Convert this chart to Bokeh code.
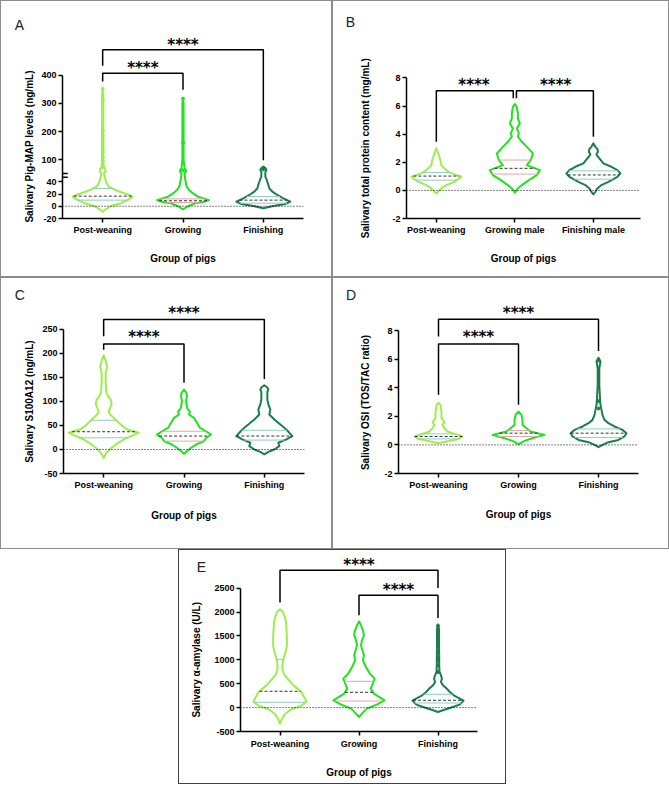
import numpy as np
from bokeh.plotting import figure
from bokeh.models import FixedTicker, Span, Title, Spacer, Range1d
from bokeh.layouts import column, row
from bokeh.embed import file_html
from bokeh.resources import INLINE
from bokeh.core.properties import value

# ---------------- data ----------------
GROUPS = ["Post-weaning", "Growing", "Finishing"]
GROUPS_B = ["Post-weaning", "Growing male", "Finishing male"]

# Panel A: Pig-MAP (ng/mL)  -- violin outline levels (y) and density (half-width)
A_PW_Y = [352, 330, 300, 250, 200, 150, 100, 76, 70, 62, 56, 52, 48, 40, 32, 27, 22, 18, 15.6, 10, 5, 0, -5, -9]
A_PW_D = [0, 0.6, 0.6, 0.6, 0.6, 0.6, 0.6, 0.8, 2.0, 3.0, 2.5, 1.2, 2.0, 3.3, 6, 12, 20, 27, 30, 25, 18, 8, 3, 0]
A_G_Y = [317, 300, 200, 160, 100, 70, 62, 55, 52, 45, 38, 33, 26.5, 21, 15.6, 12, 10, 7, 4.9, 0, -5]
A_G_D = [0, 0.6, 0.6, 0.6, 0.6, 1.5, 3, 2.5, 1.5, 2, 3, 3.5, 6, 10, 15, 22, 26, 20, 12, 5, 0]
A_F_Y = [74, 70, 65, 60, 55, 52, 48, 45, 40, 35, 29, 24, 18.4, 13, 7.5, 3.7, 0.5, -3.3]
A_F_D = [0, 2, 3, 2.5, 2, 2, 2, 3, 4, 5, 6, 9, 14, 20, 27, 22, 10, 0]
A_PW_PTS = [352, 311, 204, 186, 163, 139, 127, 109, 97, 86, 74]
A_G_PTS = [317, 160, 62]
A_F_PTS = [72, 66]
A_QUART = [(10, 16.5, 29), (6, 9, 12), (5, 10, 16)]   # (Q1, median, Q3)
A_YTICKS = [-20, 0, 20, 40, 100, 200, 300, 400]

# Panel B: total protein (mg/mL)
B_PW_Y = [3.0, 2.63, 2.16, 1.8, 1.57, 1.32, 1.09, 0.97, 0.8, 0.61, 0.38, 0.14, -0.21]
B_PW_D = [0, 2, 4, 5, 8, 12, 20, 25, 22, 18, 10, 5, 0]
B_G_Y = [6.14, 5.95, 5.48, 5.12, 4.77, 4.41, 4.06, 3.82, 3.46, 3.1, 2.63, 2.16, 1.8, 1.44, 1.09, 0.73, 0.38, 0.14, -0.17]
B_G_D = [0, 2, 3, 3, 5, 2, 4, 3, 7, 12, 18, 16, 12, 25, 22, 14, 7, 3, 0]
B_F_Y = [3.35, 3.1, 2.95, 2.75, 2.55, 2.28, 1.92, 1.68, 1.44, 1.21, 0.97, 0.61, 0.38, 0.14, -0.1, -0.28]
B_F_D = [0, 2, 4, 4.5, 3, 6, 10, 18, 24, 27, 24, 15, 8, 4, 2, 0]
B_QUART = [(0.73, 1.02, 1.28), (1.16, 1.57, 2.16), (0.8, 1.1, 1.39)]
B_YTICKS = [-2, 0, 2, 4, 6, 8]

# Panel C: S100A12 (ng/mL)
C_PW_Y = [196, 185, 172, 160, 140, 120, 112, 104, 95, 85, 78, 72, 62, 52, 42, 35, 30, 24, 12, 2, -8, -18]
C_PW_D = [0, 2, 3.5, 2, 2, 2.5, 4, 7, 8, 6, 5, 7, 12, 17, 23, 35, 30, 23, 13, 7, 2.3, 0]
C_G_Y = [125, 118, 111, 101, 87, 78.5, 73, 66, 59, 52, 45, 38, 31, 24, 17.5, 10.4, 3.5, -3.3, -9]
C_G_D = [0, 2.5, 3, 2, 3, 6, 5, 10, 12, 14, 16, 22, 27, 22, 20, 12, 7, 3, 0]
C_F_Y = [134, 129, 125, 120, 115, 104, 94, 83, 73, 62.5, 52, 41.7, 28, 21, 14, 7, 0, -5, -10]
C_F_D = [0, 3, 4, 3, 3, 3, 4, 6, 5, 10, 16, 22, 28, 22, 14, 15, 10, 4, 0]
C_QUART = [(24.4, 37, 61), (17.5, 28, 38), (19.6, 28, 40)]
C_YTICKS = [-50, 0, 50, 100, 150, 200, 250]

# Panel D: OSI (TOS/TAC ratio)
D_PW_Y = [2.95, 2.8, 2.33, 1.87, 1.59, 1.4, 1.17, 0.94, 0.82, 0.7, 0.59, 0.42, 0.3, 0.24, 0.12]
D_PW_D = [0, 2, 3, 3, 6, 4, 6, 9, 14, 20, 24, 20, 12, 8, 0]
D_G_Y = [2.33, 2.1, 1.75, 1.4, 1.17, 0.94, 0.7, 0.47, 0.28, 0.05]
D_G_D = [0, 3, 4, 4, 8, 12, 26, 14, 6, 0]
D_F_Y = [6.1, 5.83, 5.36, 4.2, 3.27, 2.8, 2.45, 2.1, 1.75, 1.52, 1.29, 1.05, 0.82, 0.59, 0.35, 0.19, 0, -0.16]
D_F_D = [0, 2, 0.8, 0.8, 1.5, 2, 3, 4, 6, 10, 16, 24, 28, 26, 20, 10, 4, 0]
D_F_PTS = [5.9, 3.05, 2.55]
D_QUART = [(0.42, 0.59, 0.77), (0.59, 0.82, 1.0), (0.52, 0.82, 1.12)]
D_YTICKS = [-2, 0, 2, 4, 6, 8]

# Panel E: alpha-amylase (U/L)
E_PW_Y = [2056, 2000, 1895, 1790, 1500, 1297, 1192, 1017, 900, 807, 703, 598, 460, 320, 125, 42, -29, -134, -238, -335]
E_PW_D = [0, 3, 5, 6, 7, 7, 6, 3.5, 2.5, 2.5, 4, 8, 14, 22, 27, 22, 12, 5, 2, 0]
E_G_Y = [1805, 1722, 1617, 1513, 1408, 1303, 1163, 1094, 990, 850, 711, 606, 502, 397, 293, 153, 63, -21, -105, -197]
E_G_D = [0, 2, 4, 5, 3, 2, 4, 5, 4, 7, 11, 16, 14, 12, 15, 26, 18, 8, 4, 0]
E_F_Y = [1736, 1650, 1500, 1300, 1100, 900, 750, 676, 606, 536, 466, 397, 327, 257, 146, 63, -8, -56, -92]
E_F_D = [0, 1, 1, 1, 1.2, 1.2, 1.5, 3, 4, 3, 5, 9, 12, 16, 26, 22, 12, 5, 0]
E_F_PTS = [1715, 1617, 1478, 1303, 1163, 1059, 990, 885, 746]
E_QUART = [(111, 341, 1004), (138, 320, 550), (96, 153, 278)]
E_YTICKS = [-500, 0, 500, 1000, 1500, 2000, 2500]

# significance brackets: (x_left, x_right, y_bar, y_left_end, y_right_end, star_x, star_y)
A_BRACKETS = [(1, 3, 490, 434, 98.5, 2.0, 516), (1, 2, 407, 378, 348, 1.5, 434)]
B_BRACKETS = [(1, 1.98, 7.09, 3.46, 6.55, 1.48, 7.66), (2.02, 3, 7.09, 6.55, 3.81, 2.52, 7.66)]
C_BRACKETS = [(1, 3, 270.8, 236, 147, 2.0, 288), (1, 2, 220, 208, 139, 1.5, 237.5)]
D_BRACKETS = [(1, 3, 8.79, 7.58, 6.57, 2.0, 9.37), (1, 2, 7.06, 3.5, 2.8, 1.5, 7.69)]
E_BRACKETS = [(1, 3, 2872, 2197, 2502, 2.0, 3033), (2, 3, 2349, 1931, 1874, 2.5, 2510)]
STARS = "****"

# ---------------- style ----------------
FONT = "Liberation Sans"
VIOLIN_COLORS = ["#9DEE4C", "#1FE31F", "#1B7E4C"]
QUART_COLORS = ["#8FCDBF", "#EBA3A3", "#8FCDBF"]
MEDIAN_COLOR = "#333333"
YTITLE_PX = 10
# advance widths (1/1000 em) of Liberation Sans Bold, used to centre the y titles on the axis
BOLD_W = {' ': 278, '(': 333, ')': 333, '-': 333, '/': 278, '0': 556, '1': 556, '2': 556,
          'A': 722, 'C': 722, 'I': 278, 'L': 611, 'M': 833, 'O': 778, 'P': 667, 'S': 667,
          'T': 611, 'U': 722, 'a': 556, 'c': 556, 'e': 556, 'g': 611, 'i': 278, 'l': 278,
          'm': 889, 'n': 611, 'o': 611, 'p': 611, 'r': 389, 's': 556, 't': 333, 'v': 556,
          'y': 556, 'α': 611}


def text_len(s, size):
    return sum(BOLD_W.get(ch, 556) for ch in s) / 1000.0 * size


def ident(v):
    return np.asarray(v, dtype=float)


def tf_a(v):
    # broken axis for panel A: linear below 50, compressed above
    v = np.asarray(v, dtype=float)
    return np.where(v <= 50, v, 76 + (v - 100) * 0.46)


def make_panel(letter, width, height, borders, xr, yr, ylabel, xlabels, yticks,
               violins, quarts, points, brackets, wscale, tf=ident,
               xlab_standoff=15, xtick_standoff=2,
               letter_offset=-48, letter_standoff=5, ylab_standoff=17,
               outline="#8c8c8c"):
    L, R, T, B = borders
    p = figure(width=width, height=height, x_range=Range1d(*xr), y_range=Range1d(*yr),
               output_backend="svg", toolbar_location=None,
               min_border_left=L, min_border_right=R, min_border_top=T, min_border_bottom=B,
               background_fill_color=None, border_fill_color=None,
               styles={"outline": "1px solid " + outline, "outline-offset": "-1px"})
    p.outline_line_color = None
    p.xgrid.visible = False
    p.ygrid.visible = False

    fy0, fy1 = T, height - B

    # axes
    for ax in (p.xaxis[0], p.yaxis[0]):
        ax.axis_line_color = "black"
        ax.axis_line_width = 1.5
        ax.major_tick_line_color = "black"
        ax.major_tick_line_width = 1.5
        ax.major_tick_out = 4
        ax.major_tick_in = 0
        ax.minor_tick_line_color = None
        ax.major_label_text_font = FONT
        ax.major_label_text_font_style = "bold"
        ax.major_label_text_font_size = "9px"
        ax.major_label_text_color = "black"
        ax.axis_label_text_font = FONT
        ax.axis_label_text_font_style = "bold"
        ax.axis_label_text_font_size = "10px"
        ax.axis_label_text_color = "black"
    p.xaxis.ticker = FixedTicker(ticks=[1, 2, 3])
    p.xaxis.major_label_overrides = {i + 1: lab for i, lab in enumerate(xlabels)}
    p.xaxis.axis_label = "Group of pigs"
    p.xaxis.major_label_standoff = xtick_standoff
    p.xaxis.axis_label_standoff = xlab_standoff

    yt = tf(yticks)
    p.yaxis.ticker = FixedTicker(ticks=[float(t) for t in yt])
    p.yaxis.major_label_overrides = {float(t): str(o) for t, o in zip(yt, yticks)}
    p.yaxis.bounds = (float(yt[0]), float(yt[-1]))
    p.yaxis.major_label_standoff = 2

    # y-axis title, centred on the drawn (bounded) axis as in the original
    def y2px(v):
        return fy1 - (v - yr[0]) / (yr[1] - yr[0]) * (fy1 - fy0)
    axis_mid_px = (y2px(yt[0]) + y2px(yt[-1])) / 2
    start_px = axis_mid_px + text_len(ylabel, YTITLE_PX) / 2
    p.add_layout(Title(text=ylabel, align="left", vertical_align="bottom",
                       offset=fy1 - start_px, standoff=ylab_standoff,
                       text_font=FONT, text_font_style="bold",
                       text_font_size=f"{YTITLE_PX}px", text_color="black"), "left")

    # panel letter
    p.add_layout(Title(text=letter, align="left", vertical_align="bottom",
                       offset=letter_offset, standoff=letter_standoff,
                       text_font=FONT, text_font_style="normal", text_font_size="14px",
                       text_color="#222222"), "above")

    # zero reference line
    p.add_layout(Span(location=0, dimension="width", line_color="black",
                      line_width=1, line_dash="1 2"))

    # violins
    for i, (ys, ds) in enumerate(violins):
        cx = i + 1
        ys = np.asarray(ys, dtype=float)
        hw = np.asarray(ds, dtype=float) * wscale
        yv = tf(ys)
        xs = np.concatenate([cx + hw, (cx - hw)[::-1]])
        yy = np.concatenate([yv, yv[::-1]])
        col = VIOLIN_COLORS[i]
        p.patch(xs, yy, fill_color="white", line_color=col, line_width=2, line_join="round")
        q1, med, q3 = quarts[i]
        order = np.argsort(ys)
        for q, c, dash in ((q1, QUART_COLORS[i], "solid"),
                           (q3, QUART_COLORS[i], "solid"),
                           (med, MEDIAN_COLOR, "3 2")):
            w = float(np.interp(q, ys[order], hw[order]))
            qy = float(tf([q])[0])
            p.segment(x0=[cx - w], x1=[cx + w], y0=[qy], y1=[qy],
                      line_color=c, line_width=1, line_dash=dash)
        if points[i]:
            p.scatter(x=[cx] * len(points[i]), y=tf(points[i]), size=3,
                      color=col, line_color=col)

    # significance brackets
    for (x0, x1, yb, yl, yr_, sx, sy) in brackets:
        ys_ = tf([yl, yb, yb, yr_])
        p.line([x0, x0, x1, x1], ys_, line_color="black", line_width=1.5)
        p.text(x=[sx], y=tf([sy]), text=[STARS], text_font=value("DejaVu Sans"),
               text_font_style="bold", text_font_size="15px", text_align="center",
               text_baseline="alphabetic", y_offset=2, text_color="black")
    return p


pA = make_panel("A", 332, 277, (62, 29, 30, 58), (0.5, 3.5), (-20, 287),
                "Salivary Pig-MAP levels (ng/mL)", GROUPS, A_YTICKS,
                [(A_PW_Y, A_PW_D), (A_G_Y, A_G_D), (A_F_Y, A_F_D)], A_QUART,
                [A_PW_PTS, A_G_PTS, A_F_PTS], A_BRACKETS, 1 / 80.3, tf=tf_a,
                xlab_standoff=15, xtick_standoff=2,
                letter_offset=-47.8, letter_standoff=-5, ylab_standoff=8)
# broken-axis marks
pA.segment(x0=[0.5, 0.5], x1=[0.565, 0.565], y0=[47.5, 53.5], y1=[47.5, 53.5],
           line_color="black", line_width=1.5)

pB = make_panel("B", 337, 277, (74, 29, 30, 59), (0.62, 3.60), (-2, 11.38),
                "Salivary total protein content (mg/mL)", GROUPS_B, B_YTICKS,
                [(B_PW_Y, B_PW_D), (B_G_Y, B_G_D), (B_F_Y, B_F_D)], B_QUART,
                [[], [], []], B_BRACKETS, 1 / 78.5,
                xlab_standoff=15, xtick_standoff=2,
                letter_offset=-60.8, letter_standoff=1, ylab_standoff=38)

pC = make_panel("C", 332, 272, (63, 28, 23, 76), (0.5, 3.5), (-50, 310.4),
                "Salivary S100A12 (ng/mL)", GROUPS, C_YTICKS,
                [(C_PW_Y, C_PW_D), (C_G_Y, C_G_D), (C_F_Y, C_F_D)], C_QUART,
                [[], [], []], C_BRACKETS, 1 / 80.3,
                xlab_standoff=17, xtick_standoff=2,
                letter_offset=-48.8, letter_standoff=-5, ylab_standoff=10)

pD = make_panel("D", 337, 272, (66, 31, 23, 76), (0.5, 3.5), (-2, 10.1),
                "Salivary OSI (TOS/TAC ratio)", GROUPS, D_YTICKS,
                [(D_PW_Y, D_PW_D), (D_G_Y, D_G_D), (D_F_Y, D_F_D)], D_QUART,
                [[], [], D_F_PTS], D_BRACKETS, 1 / 80.3,
                xlab_standoff=16, xtick_standoff=2,
                letter_offset=-52.6, letter_standoff=-5, ylab_standoff=21)

pE = make_panel("E", 328, 235, (58, 29, 4, 53), (0.5, 3.5), (-500, 3224),
                "Salivary α-amylase (U/L)", GROUPS, E_YTICKS,
                [(E_PW_Y, E_PW_D), (E_G_Y, E_G_D), (E_F_Y, E_F_D)], E_QUART,
                [[], [], E_F_PTS], E_BRACKETS, 1 / 80.3,
                xlab_standoff=15, xtick_standoff=3,
                letter_offset=-43.8, letter_standoff=-43, ylab_standoff=20,
                outline="#404040")

layout = column(row(pA, pB), row(pC, pD), row(Spacer(width=178, height=235), pE))

with open("out.html", "w") as f:
    f.write(file_html(layout, INLINE))
